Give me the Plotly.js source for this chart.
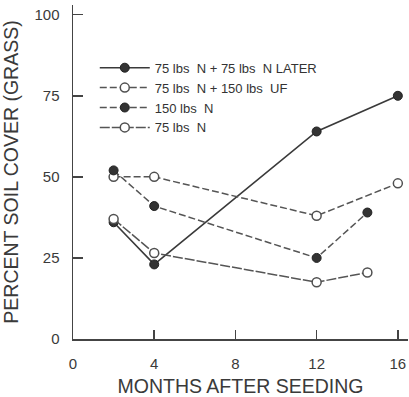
<!DOCTYPE html>
<html>
<head>
<meta charset="utf-8">
<script src="https://cdn.plot.ly/plotly-3.0.1.min.js"></script>
<style>
  html, body { margin: 0; padding: 0; background: #ffffff; }
  #chart { width: 409px; height: 397px; }
</style>
</head>
<body>
<div id="chart"></div>
<script>
// Months after seeding at which grass cover was measured
const monthsA = [2, 4, 12, 16];
const monthsB = [2, 4, 12, 14.5];

// Percent soil cover (grass) per fertilizer treatment
const coverN75Later = [36, 23, 64, 75];   // 75 lbs N + 75 lbs N later
const coverN75UF150 = [50, 50, 38, 48];   // 75 lbs N + 150 lbs UF
const coverN150 = [52, 41, 25, 39];       // 150 lbs N
const coverN75 = [37, 26.5, 17.5, 20.5];  // 75 lbs N

const seriesNames = [
  '75 lbs  N + 75 lbs  N LATER',
  '75 lbs  N + 150 lbs  UF',
  '150 lbs  N',
  '75 lbs  N'
];

const xTicks = [0, 4, 8, 12, 16];
const yTicks = [0, 25, 50, 75, 100];

const ink = '#3a3a3a';
const lineGrey = '#555555';
const fontFamily = '"Liberation Sans", Arial, sans-serif';

const filledMarker = { symbol: 'circle', size: 9, color: '#333333', line: { color: '#222222', width: 1 } };
const openMarker = { symbol: 'circle', size: 9, color: '#ffffff', line: { color: '#505050', width: 1.5 } };

const traces = [
  {
    x: monthsA, y: coverN75Later, name: seriesNames[0],
    mode: 'lines+markers',
    line: { color: '#3a3a3a', width: 1.6 },
    marker: filledMarker
  },
  {
    x: monthsA, y: coverN75UF150, name: seriesNames[1],
    mode: 'lines+markers',
    line: { color: lineGrey, width: 1.5, dash: '7px,3px' },
    marker: openMarker
  },
  {
    x: monthsB, y: coverN150, name: seriesNames[2],
    mode: 'lines+markers',
    line: { color: lineGrey, width: 1.5, dash: '7px,3px' },
    marker: filledMarker
  },
  {
    x: monthsB, y: coverN75, name: seriesNames[3],
    mode: 'lines+markers',
    line: { color: lineGrey, width: 1.5, dash: '10px,2px' },
    marker: openMarker
  }
];

const layout = {
  width: 409,
  height: 397,
  margin: { l: 73, r: 1, t: 5, b: 58 },
  paper_bgcolor: '#ffffff',
  plot_bgcolor: '#ffffff',
  font: { family: fontFamily, color: ink, size: 14 },
  showlegend: true,
  legend: {
    x: 0.065, y: 0.857, xanchor: 'left', yanchor: 'top',
    bgcolor: 'rgba(0,0,0,0)',
    font: { family: fontFamily, size: 13, color: '#333333' },
    tracegroupgap: 0,
    itemwidth: 50
  },
  xaxis: {
    range: [0, 16.5],
    tickmode: 'array',
    tickvals: xTicks,
    ticktext: xTicks.map(String),
    ticks: 'inside',
    ticklen: 9,
    tickwidth: 1.5,
    tickcolor: '#444444',
    showline: true,
    linecolor: '#444444',
    linewidth: 1.5,
    showgrid: false,
    zeroline: false,
    ticklabelstandoff: 10,
    tickfont: { size: 15, color: ink },
    title: {
      text: 'MONTHS AFTER SEEDING',
      font: { size: 19.5, color: ink },
      standoff: 11
    }
  },
  yaxis: {
    range: [0, 103],
    tickmode: 'array',
    tickvals: yTicks,
    ticktext: yTicks.map(String),
    ticks: 'inside',
    ticklen: 10,
    tickwidth: 1.5,
    tickcolor: '#444444',
    showline: true,
    linecolor: '#444444',
    linewidth: 1.5,
    showgrid: false,
    zeroline: false,
    ticklabelstandoff: 9,
    tickfont: { size: 15, color: ink },
    title: {
      text: 'PERCENT SOIL COVER (GRASS)',
      font: { size: 19.5, color: ink },
      standoff: 11
    }
  }
};

Plotly.newPlot('chart', traces, layout, { displayModeBar: false, staticPlot: true });
</script>
</body>
</html>
